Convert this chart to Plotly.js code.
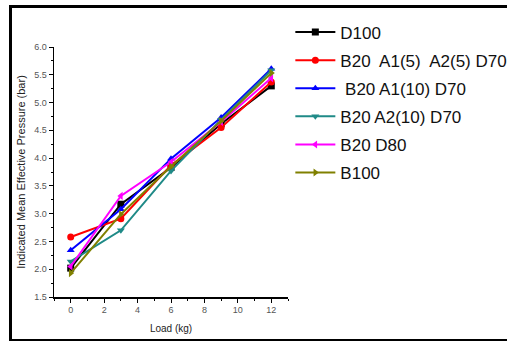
<!DOCTYPE html>
<html>
<head>
<meta charset="utf-8">
<script src="https://cdn.plot.ly/plotly-3.0.1.min.js"></script>
<style>
html,body{margin:0;padding:0;background:#fff;overflow:hidden;}
#frame{position:absolute;left:9px;top:5px;width:520px;height:331px;border:3px solid #000;box-sizing:content-box;}
#chart{position:absolute;left:0;top:0;width:507px;height:341px;}
</style>
</head>
<body>
<div id="frame"></div>
<div id="chart"></div>
<script>
const loads = [0, 3, 6, 9, 12];
const seriesNames = ["D100", "B20  A1(5)  A2(5) D70", " B20 A1(10) D70", "B20 A2(10) D70", "B20 D80", "B100"];
const d100 = [2.02, 3.17, 3.83, 4.62, 5.30];
const b20a1a2 = [2.58, 2.91, 3.87, 4.55, 5.37];
const b20a1 = [2.34, 3.08, 3.99, 4.73, 5.61];
const b20a2 = [2.14, 2.70, 3.77, 4.69, 5.58];
const b20d80 = [2.05, 3.32, 3.93, 4.65, 5.44];
const b100 = [1.93, 2.99, 3.85, 4.67, 5.53];
const xTicks = [0, 2, 4, 6, 8, 10, 12];
const yTicks = [1.5, 2.0, 2.5, 3.0, 3.5, 4.0, 4.5, 5.0, 5.5, 6.0];

const values = [d100, b20a1a2, b20a1, b20a2, b20d80, b100];
const colors = ["#000000", "#ff0000", "#0000ff", "#1f8a87", "#ff00ff", "#808000"];
const symbols = ["square", "circle", "triangle-up", "triangle-down", "triangle-left", "triangle-right"];

const traces = values.map((v, i) => ({
  x: loads, y: v, type: "scatter", mode: "lines+markers",
  name: seriesNames[i],
  legendgroup: "g" + i,
  line: {color: colors[i], width: 2},
  marker: {color: colors[i], symbol: symbols[i], size: 7}
}));

const layout = {
  width: 507, height: 341,
  margin: {l: 54, r: 219, t: 47, b: 44, autoexpand: false},
  paper_bgcolor: "rgba(0,0,0,0)",
  plot_bgcolor: "rgba(0,0,0,0)",
  showlegend: true,
  legend: {
    x: 1.01, xanchor: "left", y: 1.13, yanchor: "top",
    font: {family: "Liberation Sans, Arial", size: 17, color: "#111"},
    itemwidth: 40, tracegroupgap: 3,
    bgcolor: "rgba(0,0,0,0)"
  },
  xaxis: {
    range: [-1, 13], tickvals: xTicks, ticktext: xTicks.map(String),
    showgrid: false, zeroline: false, showline: true, linecolor: "#000", linewidth: 1.5,
    ticks: "outside", ticklen: 4, tickcolor: "#000", tickwidth: 1,
    minor: {dtick: 1, ticks: "outside", ticklen: 2, tickcolor: "#000"},
    tickfont: {family: "Liberation Sans, Arial", size: 9, color: "#555"},
    title: {text: "Load (kg)", font: {family: "Liberation Sans, Arial", size: 10, color: "#222"}, standoff: 10}
  },
  yaxis: {
    range: [1.5, 6.0], tickvals: yTicks, ticktext: yTicks.map(v => v.toFixed(1)),
    showgrid: false, zeroline: false, showline: true, linecolor: "#000", linewidth: 1.5,
    ticks: "outside", ticklen: 4, tickcolor: "#000", tickwidth: 1,
    minor: {dtick: 0.25, ticks: "outside", ticklen: 2, tickcolor: "#000"},
    tickfont: {family: "Liberation Sans, Arial", size: 9, color: "#555"},
    title: {text: "Indicated Mean Effective Pressure (bar)", font: {family: "Liberation Sans, Arial", size: 11, color: "#222"}, standoff: 6}
  }
};

Plotly.newPlot("chart", traces, layout, {displayModeBar: false, staticPlot: true});
</script>
</body>
</html>
